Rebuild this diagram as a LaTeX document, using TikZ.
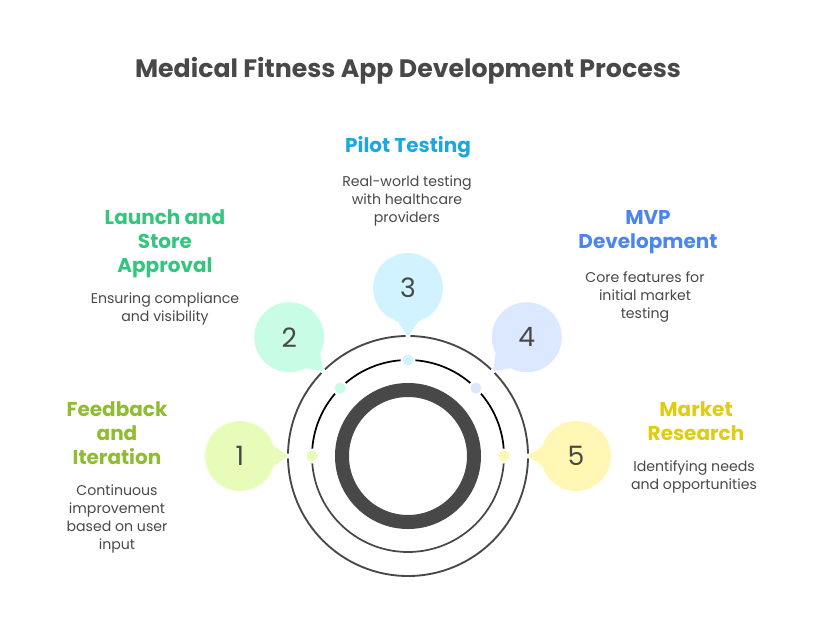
\documentclass[tikz,border=0pt]{standalone}
\usepackage{fontspec}
\setmainfont{Poppins}
\definecolor{inkgray}{HTML}{484848}
\definecolor{limefill}{HTML}{E6FCB8}
\definecolor{mintfill}{HTML}{C8FCE4}
\definecolor{skyfill}{HTML}{D1F3FF}
\definecolor{bluefill}{HTML}{DCE8FF}
\definecolor{sandfill}{HTML}{FFF7B3}
\definecolor{limetext}{HTML}{8FBC30}
\definecolor{minttext}{HTML}{34C67F}
\definecolor{skytext}{HTML}{1CA8DF}
\definecolor{bluetext}{HTML}{4A86EE}
\definecolor{sandtext}{HTML}{E0CC10}
\tikzset{
  bubble/.style={circle, minimum size=52.5pt, inner sep=0pt, text=inkgray, font=\fontsize{20}{20}\selectfont},
  heading/.style={align=center, font=\fontsize{15}{18}\selectfont\bfseries},
  blurb/.style={align=center, text=inkgray, font=\fontsize{10.6}{13.5}\selectfont},
}
\begin{document}
\begin{tikzpicture}[x=0.75pt, y=0.75pt]
    \useasboundingbox (-408,-180) rectangle (408,456);
    \node[heading, text=inkgray, font=\fontsize{18.9}{22}\selectfont\bfseries] (title) at (0,385) {Medical Fitness App Development Process};
    % rings
    \node[circle, draw=inkgray, line width=10.5pt, minimum size=99pt, inner sep=0pt] (hub) at (0,0) {};
    \draw[inkgray, line width=1.4pt] (hub.center) circle (120);
    \draw[black, line width=1.3pt] (96,0) arc (0:180:96);
    \draw[inkgray, line width=1.3pt] (-96,0) arc (180:360:96);
    % bubbles, pointers and dots
    \foreach \i/\ang/\col in {1/180/limefill, 2/135/mintfill, 3/90/skyfill, 4/45/bluefill, 5/0/sandfill} {
        \pgfmathsetmacro{\back}{\ang+180}
        \coordinate (tip\i) at (\ang:120);
        \fill[white] (tip\i) circle (2.5);
        \fill[white] (\ang:96) circle (7.5);
        \fill[\col] (\ang:96) circle (5.5);
        \node[bubble, fill=\col] (bub\i) at (\ang:168) {\i};
        \fill[\col] (bub\i.\back+17) -- (tip\i) -- (bub\i.\back-17) -- cycle;
    }
    \node[heading, text=limetext] (head1) at (-291,23) {Feedback\\and\\Iteration};
    \node[blurb] (text1) at (-291,-63) {Continuous\\improvement\\based on user\\input};
    \node[heading, text=minttext] (head2) at (-243,212) {Launch and\\Store\\Approval};
    \node[blurb] (text2) at (-243,147) {Ensuring compliance\\and visibility};
    \node[heading, text=skytext] (head3) at (0,309) {Pilot Testing};
    \node[blurb] (text3) at (-1,255) {Real-world testing\\with healthcare\\providers};
    \node[heading, text=bluetext] (head4) at (240,224) {MVP\\Development};
    \node[blurb] (text4) at (237,159) {Core features for\\initial market\\testing};
    \node[heading, text=sandtext] (head5) at (288,35) {Market\\Research};
    \node[blurb] (text5) at (286,-21) {Identifying needs\\and opportunities};
\end{tikzpicture}
\end{document}
